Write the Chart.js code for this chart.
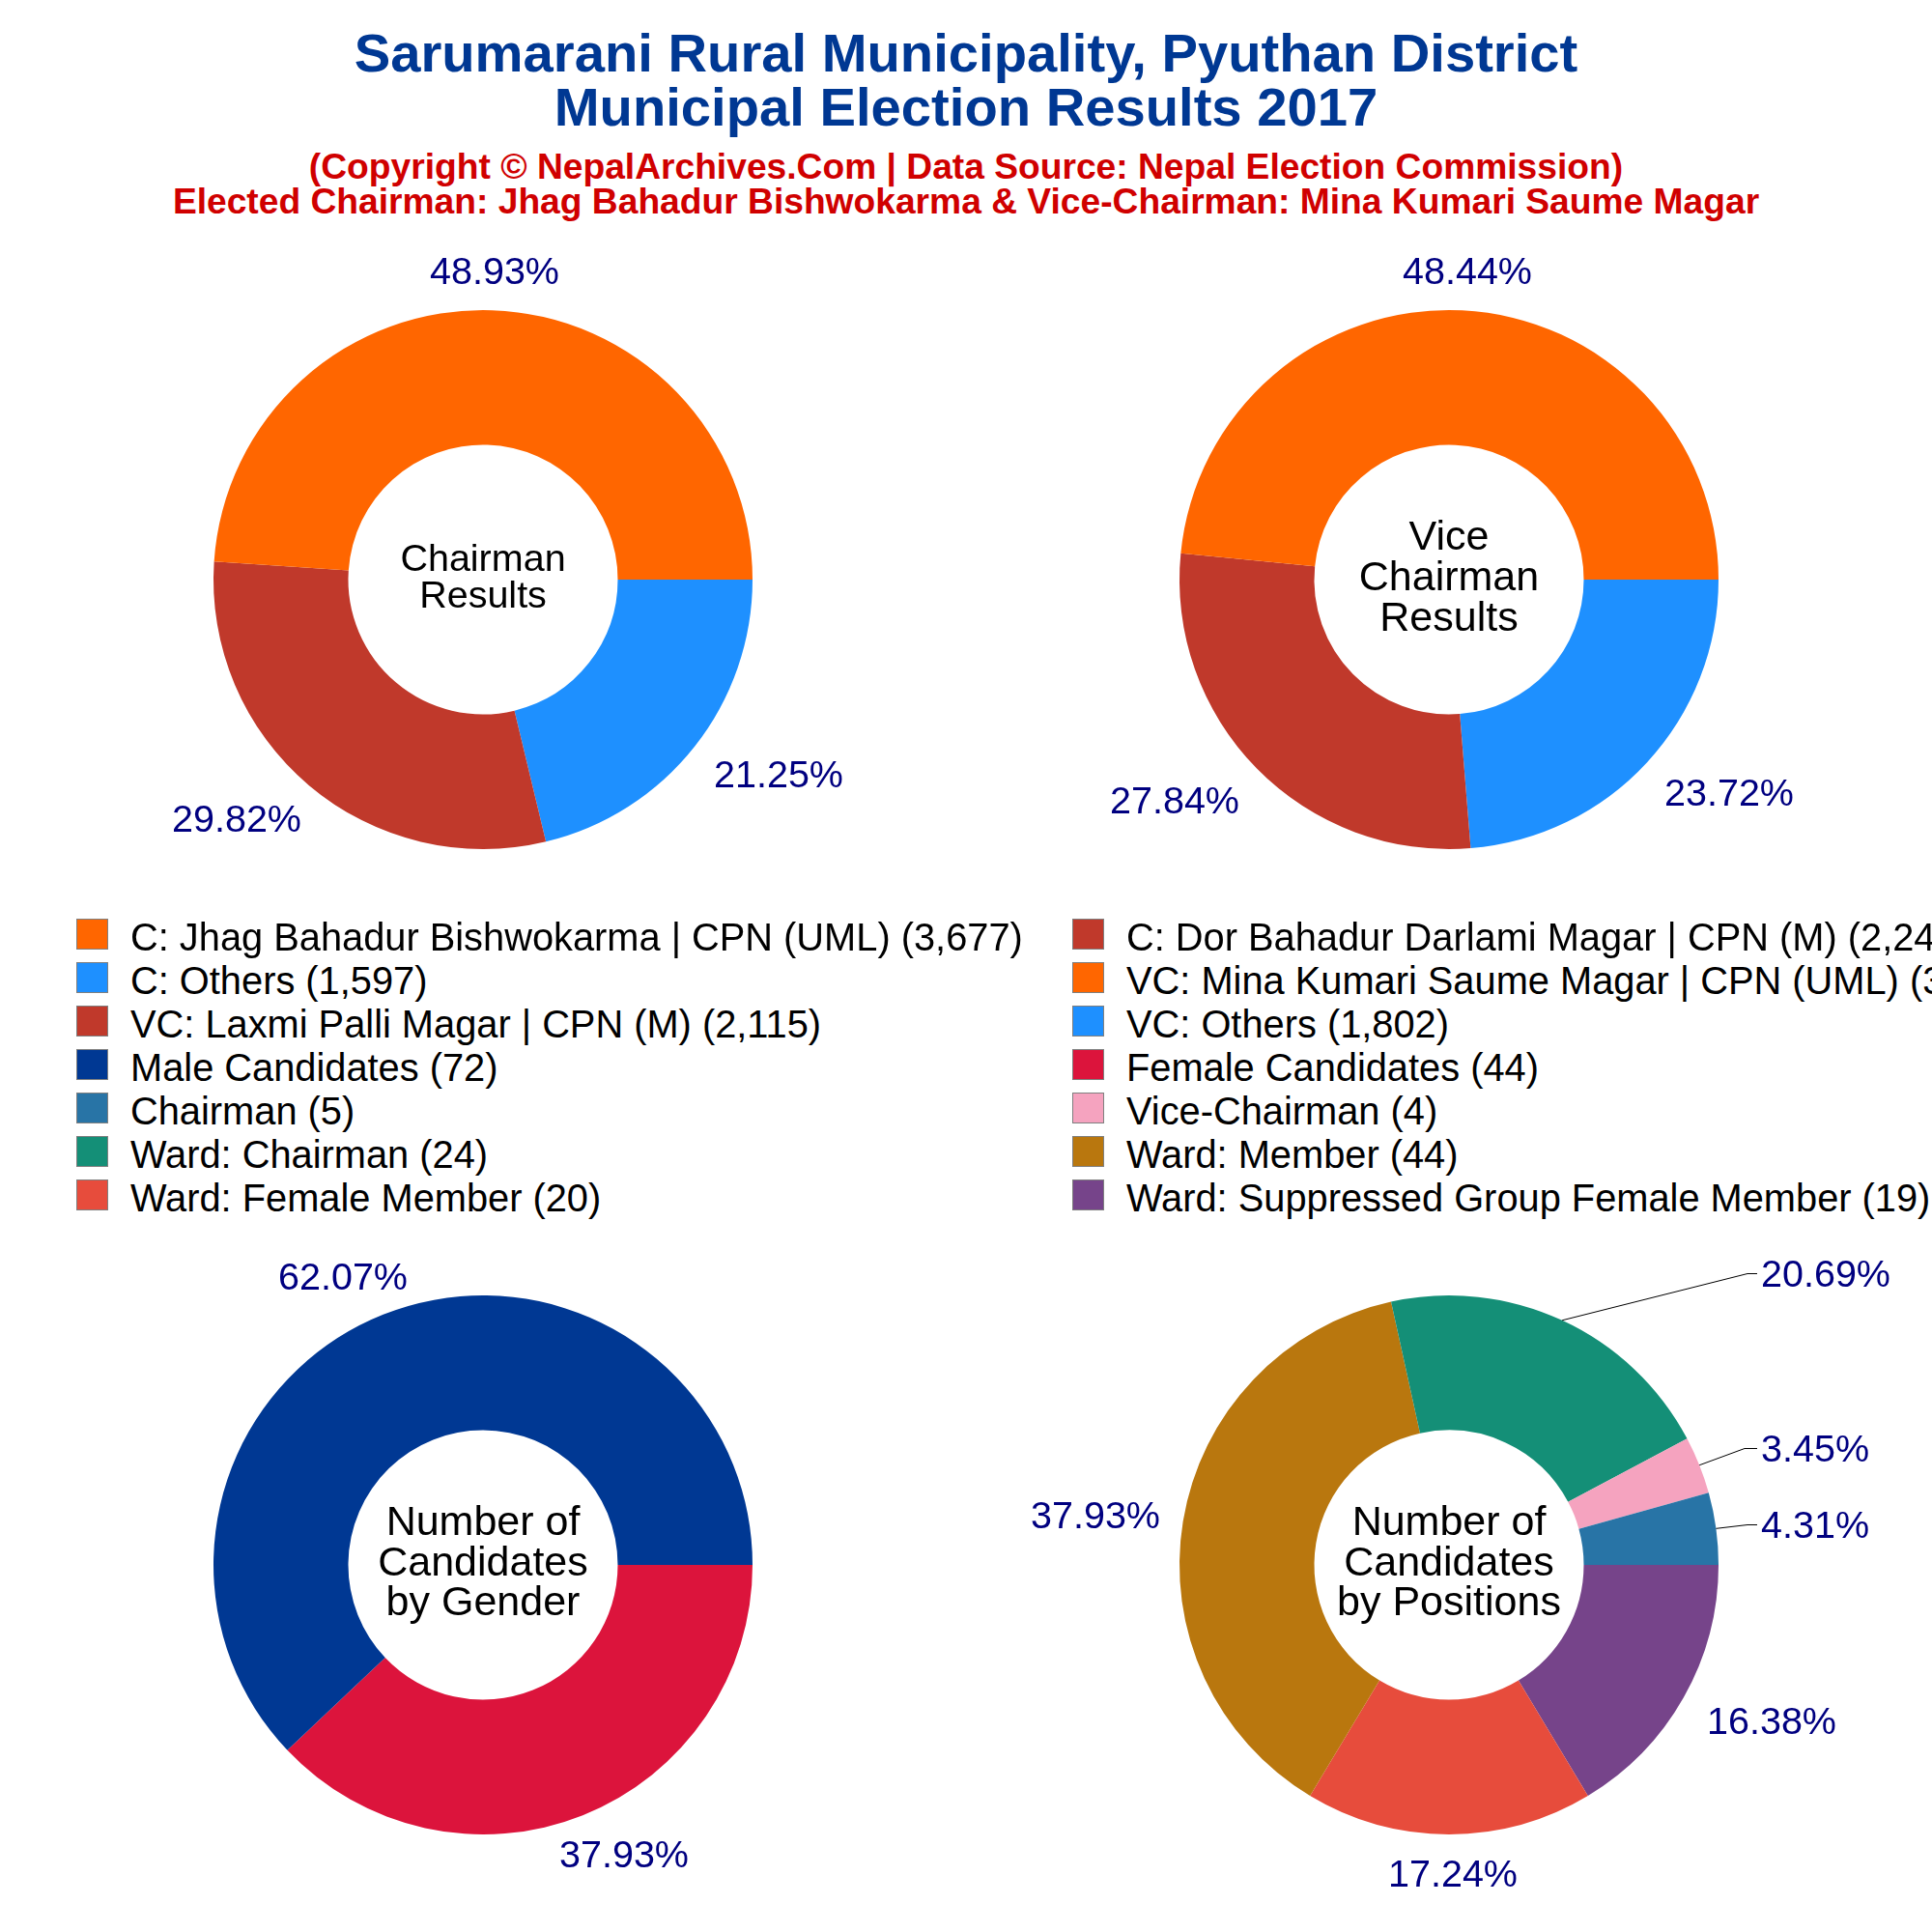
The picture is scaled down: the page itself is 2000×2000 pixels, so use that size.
<!DOCTYPE html>
<html>
<head>
<meta charset="utf-8">
<script src="https://cdn.jsdelivr.net/npm/chart.js@4"></script>
<style>
html, body { margin: 0; padding: 0; background: #fff; }
#page { position: relative; width: 2000px; height: 2000px; overflow: hidden; font-family: "Liberation Sans", Arial, sans-serif; }
#page canvas { position: absolute; }
.head { position: absolute; left: 0; width: 2000px; text-align: center; font-weight: bold; white-space: nowrap; }
.swatch { position: absolute; width: 31px; height: 30px; border: 1px solid #7f7f7f; }
.entry { position: absolute; font-size: 39.8px; line-height: 44px; color: #000; white-space: nowrap; }
</style>
</head>
<body>
<div id="page"></div>
<script>
// all lists run counter-clockwise from 3 o'clock, same as the legend
var chairNames = ["C: Jhag Bahadur Bishwokarma | CPN (UML)", "C: Dor Bahadur Darlami Magar | CPN (M)", "C: Others"];
var chairVotes = [3677, 2241, 1597];
var chairColors = ["#FF6600", "#C0392B", "#1E90FF"];

var viceNames = ["VC: Mina Kumari Saume Magar | CPN (UML)", "VC: Laxmi Palli Magar | CPN (M)", "VC: Others"];
var viceVotes = [3680, 2115, 1802];
var viceColors = ["#FF6600", "#C0392B", "#1E90FF"];

var genderNames = ["Male Candidates", "Female Candidates"];
var genderCounts = [72, 44];
var genderColors = ["#003893", "#DC143C"];

var positionNames = ["Chairman", "Vice-Chairman", "Ward: Chairman", "Ward: Member", "Ward: Female Member", "Ward: Suppressed Group Female Member"];
var positionCounts = [5, 4, 24, 44, 20, 19];
var positionColors = ["#2874A6", "#F5A3BF", "#148F77", "#B9770E", "#E74C3C", "#76448A"];

var titleLines = ["Sarumarani Rural Municipality, Pyuthan District", "Municipal Election Results 2017"];
var subLines = ["(Copyright © NepalArchives.Com | Data Source: Nepal Election Commission)", "Elected Chairman: Jhag Bahadur Bishwokarma & Vice-Chairman: Mina Kumari Saume Magar"];

var page = document.getElementById("page");

function addHead(text, y, size, color) {
    var d = document.createElement("div");
    d.className = "head";
    d.textContent = text;
    d.style.top = (y - size) + "px";
    d.style.fontSize = size + "px";
    d.style.lineHeight = (size * 2) + "px";
    d.style.color = color;
    page.appendChild(d);
}
addHead(titleLines[0], 55, 56.2, "#003893");
addHead(titleLines[1], 111, 56.2, "#003893");
addHead(subLines[0], 172, 37.2, "#D00000");
addHead(subLines[1], 208, 37.2, "#D00000");

// centre text, percent labels and leader lines
var pieText = {
    id: "pieText",
    afterDraw: function(chart, args, opts) {
        var ctx = chart.ctx;
        var arcs = chart.getDatasetMeta(0).data;
        var vals = chart.data.datasets[0].data;
        var total = vals.reduce(function(a, b) { return a + b; }, 0);
        var cx = arcs[0].x, cy = arcs[0].y;
        ctx.save();
        ctx.textAlign = "center";
        ctx.textBaseline = "middle";

        ctx.fillStyle = "#000";
        ctx.font = opts.centerSize + 'px "Liberation Sans"';
        opts.center.forEach(function(line, i) {
            ctx.fillText(line, cx, cy - 1 + (i - (opts.center.length - 1) / 2) * opts.centerStep);
        });

        ctx.font = '39.5px "Liberation Sans"';
        opts.labelPos.forEach(function(pos, i) {
            // chart data is reversed, labelPos is not
            var k = vals.length - 1 - i;
            ctx.fillStyle = "#000080";
            ctx.fillText((vals[k] / total * 100).toFixed(2) + "%", cx + pos[0], cy + pos[1] + 2);
            var elbow = opts.leaders && opts.leaders[i];
            if (elbow) {
                var mid = (arcs[k].startAngle + arcs[k].endAngle) / 2;
                ctx.strokeStyle = "#000";
                ctx.lineWidth = 1;
                ctx.beginPath();
                ctx.moveTo(cx + Math.cos(mid) * arcs[k].outerRadius, cy + Math.sin(mid) * arcs[k].outerRadius);
                ctx.lineTo(cx + elbow[0], cy + elbow[1] + 0.5);
                ctx.lineTo(cx + elbow[2], cy + elbow[1] + 0.5);
                ctx.stroke();
            }
        });
        ctx.restore();
    }
};

function addPie(left, top, values, colors, names, textOpts) {
    var canvas = document.createElement("canvas");
    canvas.width = 1000;
    canvas.height = 700;
    canvas.style.left = left + "px";
    canvas.style.top = top + "px";
    page.appendChild(canvas);
    return new Chart(canvas.getContext("2d"), {
        type: "doughnut",
        plugins: [pieText],
        data: {
            labels: names.slice().reverse(),
            datasets: [{
                data: values.slice().reverse(),
                backgroundColor: colors.slice().reverse(),
                borderWidth: 0
            }]
        },
        options: {
            responsive: false,
            animation: false,
            devicePixelRatio: 1,
            rotation: 90,
            cutout: "50%",
            layout: { padding: { left: 221, right: 221, top: 71, bottom: 71 } },
            plugins: { legend: { display: false }, tooltip: { enabled: false }, pieText: textOpts }
        }
    });
}

addPie(0, 250, chairVotes, chairColors, chairNames, {
    center: ["Chairman", "Results"], centerSize: 39.5, centerStep: 38,
    labelPos: [[12, -319], [-255, 248], [306, 202]]
});
addPie(1000, 250, viceVotes, viceColors, viceNames, {
    center: ["Vice", "Chairman", "Results"], centerSize: 43, centerStep: 42,
    labelPos: [[19, -319], [-284, 229], [290, 221]]
});
addPie(0, 1270, genderCounts, genderColors, genderNames, {
    center: ["Number of", "Candidates", "by Gender"], centerSize: 43, centerStep: 41.5,
    labelPos: [[-145, -298], [146, 300]]
});
addPie(1000, 1270, positionCounts, positionColors, positionNames, {
    center: ["Number of", "Candidates", "by Positions"], centerSize: 43, centerStep: 41.5,
    labelPos: [[379, -41], [379, -120], [390, -301], [-366, -51], [4, 320], [334, 162]],
    leaders: [[309, -42, 319], [306, -121, 319], [309, -302, 319]]
});

// legend, filled row by row
var legendNames = chairNames.concat(viceNames, genderNames, positionNames);
var legendValues = chairVotes.concat(viceVotes, genderCounts, positionCounts);
var legendColors = chairColors.concat(viceColors, genderColors, positionColors);
legendNames.forEach(function(name, i) {
    var col = i % 2, row = Math.floor(i / 2);
    var sw = document.createElement("div");
    sw.className = "swatch";
    sw.style.left = (col ? 1110 : 79) + "px";
    sw.style.top = (951 + row * 45) + "px";
    sw.style.background = legendColors[i];
    page.appendChild(sw);
    var t = document.createElement("div");
    t.className = "entry";
    t.textContent = name + " (" + legendValues[i].toLocaleString("en-US") + ")";
    t.style.left = (col ? 1166 : 135) + "px";
    t.style.top = (948 + row * 45) + "px";
    page.appendChild(t);
});
</script>
</body>
</html>
